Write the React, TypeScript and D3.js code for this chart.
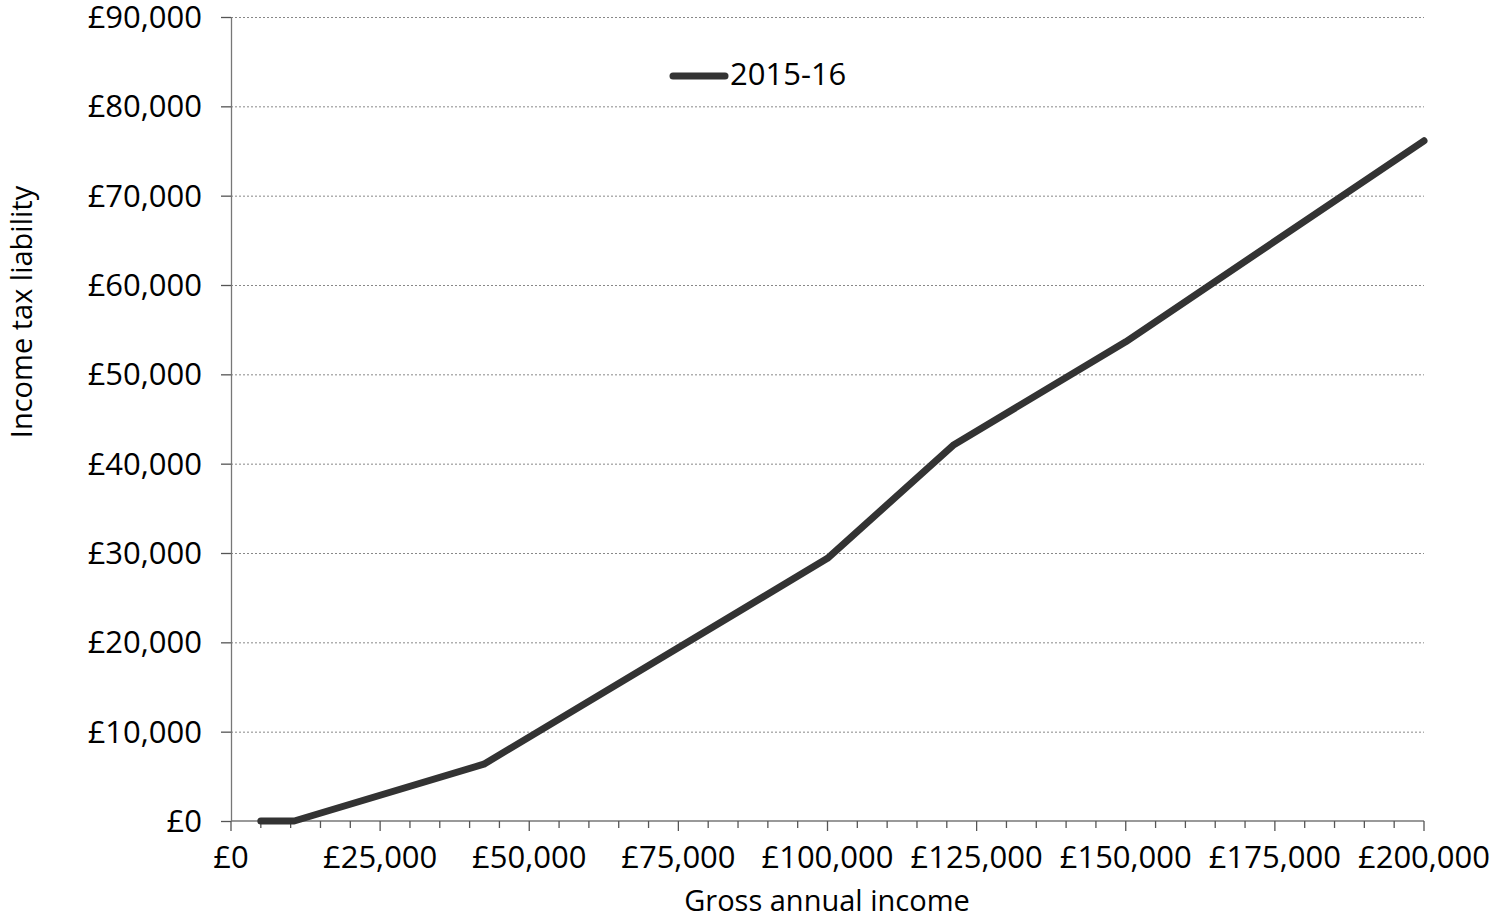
import React from "react";
import * as d3 from "d3";

const incomes = [5000, 10600, 42385, 100000, 121200, 150000, 200000];
const taxLiability = [0, 0, 6357, 29403, 42123, 53643, 76143];
const seriesName = "2015-16";
const xMajorTicks = [0, 25000, 50000, 75000, 100000, 125000, 150000, 175000, 200000];
const yTicks = [0, 10000, 20000, 30000, 40000, 50000, 60000, 70000, 80000, 90000];
const xTitle = "Gross annual income";
const yTitle = "Income tax liability";

const W = 1493;
const H = 918;
const left = 231;
const right = 1424;
const top = 17;
const bottom = 821;
const FONT = "'Open Sans', sans-serif";

const fmt = (v: number) => "£" + d3.format(",")(v);

export default function App() {
  const x = d3.scaleLinear().domain([0, 200000]).range([left, right]);
  const y = d3.scaleLinear().domain([0, 90000]).range([bottom, top]);
  const data = incomes.map((v, i) => ({ x: v, y: taxLiability[i] }));
  const line = d3
    .line<{ x: number; y: number }>()
    .x((d) => x(d.x))
    .y((d) => y(d.y));
  const minorTicks = d3.range(0, 200001, 5000).filter((v) => v % 25000 !== 0);

  return (
    <svg
      width={W}
      height={H}
      style={{ position: "absolute", left: 0, top: 0, background: "#fff" }}
      fontFamily={FONT}
    >
      {/* gridlines */}
      {yTicks
        .filter((t) => t !== 0)
        .map((t) => (
          <line
            key={"g" + t}
            x1={left}
            x2={right}
            y1={y(t) + 0.5}
            y2={y(t) + 0.5}
            stroke="#888"
            strokeWidth={1}
            strokeDasharray="2,2"
          />
        ))}
      {/* y axis */}
      <line x1={left + 0.5} x2={left + 0.5} y1={top} y2={bottom} stroke="#777" strokeWidth={1.3} />
      {yTicks.map((t) => (
        <g key={"y" + t}>
          <line x1={left - 10} x2={left} y1={y(t) + 0.5} y2={y(t) + 0.5} stroke="#555" strokeWidth={1.3} />
          <text
            x={202}
            y={y(t) + 11}
            textAnchor="end"
            fontSize={31}
            fill="#000"
          >
            {fmt(t)}
          </text>
        </g>
      ))}
      {/* x axis */}
      <line x1={left} x2={right} y1={bottom} y2={bottom} stroke="#777" strokeWidth={1.3} />
      {minorTicks.map((t) => (
        <line key={"m" + t} x1={x(t)} x2={x(t)} y1={bottom} y2={bottom + 7} stroke="#555" strokeWidth={1.3} />
      ))}
      {xMajorTicks.map((t) => (
        <g key={"x" + t}>
          <line x1={x(t)} x2={x(t)} y1={bottom} y2={bottom + 10} stroke="#555" strokeWidth={1.3} />
          <text x={x(t)} y={868} textAnchor="middle" fontSize={31} fill="#000">
            {fmt(t)}
          </text>
        </g>
      ))}
      {/* series */}
      <path
        d={line(data) || ""}
        fill="none"
        stroke="#333"
        strokeWidth={7}
        strokeLinecap="round"
        strokeLinejoin="round"
      />
      {/* legend */}
      <line x1={673} x2={725} y1={76} y2={76} stroke="#333" strokeWidth={7} strokeLinecap="round" />
      <text x={730} y={85} fontSize={31} fill="#000">
        {seriesName}
      </text>
      {/* titles */}
      <text x={827} y={911} textAnchor="middle" fontSize={29} fill="#000">
        {xTitle}
      </text>
      <text
        transform={`translate(32, 312) rotate(-90)`}
        textAnchor="middle"
        fontSize={29}
        fill="#000"
      >
        {yTitle}
      </text>
    </svg>
  );
}
